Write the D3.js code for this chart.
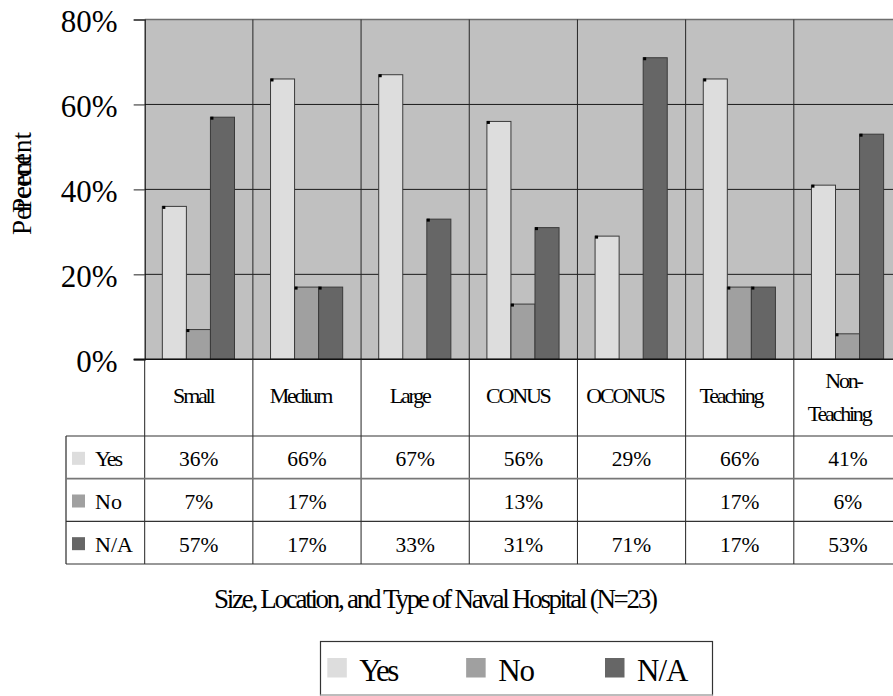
<!DOCTYPE html>
<html>
<head>
<meta charset="utf-8">
<script src="https://cdn.jsdelivr.net/npm/d3@7"></script>
<style>
  html, body { margin: 0; padding: 0; background: #fff; }
  svg { display: block; }
</style>
</head>
<body>
<svg id="chart" width="893" height="696"></svg>
<script>
// Hospital survey responses by size, location and type
const categories = ["Small", "Medium", "Large", "CONUS", "OCONUS", "Teaching", "Non-Teaching"];
const categoryLines = [["Small"], ["Medium"], ["Large"], ["CONUS"], ["OCONUS"], ["Teaching"], ["Non-", "Teaching"]];
const seriesNames = ["Yes", "No", "N/A"];
const yesValues = [36, 66, 67, 56, 29, 66, 41];
const noValues = [7, 17, null, 13, null, 17, 6];
const naValues = [57, 17, 33, 31, 71, 17, 53];
const yTicks = [0, 20, 40, 60, 80];
const seriesColors = ["#dddddd", "#a0a0a0", "#666666"];

const seriesValues = [yesValues, noValues, naValues];

// pick the first installed Times-like face
function pickFont(cands) {
  const ctx = document.createElement("canvas").getContext("2d");
  const probe = "mmmmmmmmmmlliWWQ%08";
  const widthOf = f => { ctx.font = "40px " + f; return ctx.measureText(probe).width; };
  const mono = widthOf("monospace"), sans = widthOf("sans-serif");
  for (const c of cands) {
    const a = widthOf(`"${c}", monospace`), b = widthOf(`"${c}", sans-serif`);
    if (a !== mono || b !== sans) return `"${c}"`;
  }
  return "serif";
}
const serif = pickFont(["Liberation Serif", "Tinos", "Times New Roman", "Times", "Nimbus Roman", "FreeSerif", "Noto Serif", "DejaVu Serif"]) + ", serif";

const svg = d3.select("#chart").style("font-family", serif);
const plot = { left: 144.7, right: 902, top: 19.5, bottom: 359.3 };
const table = { left: 66, headerBottom: 436, bottom: 564 };

const x = d3.scaleBand().domain(categories).range([plot.left, plot.right]).paddingInner(0).paddingOuter(0);
const bw = x.bandwidth();
const x1 = d3.scaleBand().domain(seriesNames).range([bw * 0.163, bw * 0.83]).paddingInner(0);
const y = d3.scaleLinear().domain([0, 80]).range([plot.bottom, plot.top]);
const color = d3.scaleOrdinal().domain(seriesNames).range(seriesColors);
const rowY = d3.scaleBand().domain(seriesNames).range([table.headerBottom, table.bottom]);

// plot background
svg.append("rect")
  .attr("x", plot.left).attr("y", plot.top)
  .attr("width", plot.right - plot.left).attr("height", plot.bottom - plot.top)
  .attr("fill", "#c0c0c0");

// horizontal gridlines
svg.append("g").selectAll("line")
  .data(yTicks.filter(t => t > 0 && t < 80))
  .join("line")
  .attr("x1", plot.left).attr("x2", plot.right)
  .attr("y1", d => y(d)).attr("y2", d => y(d))
  .attr("stroke", "#1a1a1a").attr("stroke-width", 1);

// top border of plot
svg.append("line")
  .attr("x1", plot.left).attr("x2", plot.right)
  .attr("y1", y(80)).attr("y2", y(80))
  .attr("stroke", "#6e6e6e").attr("stroke-width", 1.5);

// category dividers in plot
svg.append("g").selectAll("line")
  .data(categories.slice(1))
  .join("line")
  .attr("x1", d => x(d)).attr("x2", d => x(d))
  .attr("y1", plot.top).attr("y2", plot.bottom)
  .attr("stroke", "#262626").attr("stroke-width", 1);

// bars
const barData = [];
categories.forEach((c, i) => {
  seriesNames.forEach((s, j) => {
    const v = seriesValues[j][i];
    if (v != null) barData.push({ cat: c, series: s, value: v });
  });
});

const bars = svg.append("g");
bars.selectAll("rect.bar")
  .data(barData)
  .join("rect")
  .attr("class", "bar")
  .attr("x", d => x(d.cat) + x1(d.series))
  .attr("y", d => y(d.value))
  .attr("width", x1.bandwidth())
  .attr("height", d => y(0) - y(d.value))
  .attr("fill", d => color(d.series))
  .attr("stroke", "#3a3a3a")
  .attr("stroke-width", 1);

// small point markers at bar tops
bars.selectAll("rect.mark")
  .data(barData)
  .join("rect")
  .attr("class", "mark")
  .attr("x", d => x(d.cat) + x1(d.series))
  .attr("y", d => y(d.value) - 0.5)
  .attr("width", 3).attr("height", 3)
  .attr("fill", "#000");

// y axis
const yAxis = d3.axisLeft(y).tickValues(yTicks).tickFormat(d => d + "%").tickSize(11).tickPadding(16);
const yg = svg.append("g").attr("transform", `translate(${plot.left},0)`).call(yAxis);
yg.attr("font-family", serif).attr("font-size", 31);
yg.select(".domain").attr("stroke", "#111").attr("stroke-width", 1.2);
yg.selectAll(".tick line").attr("stroke", "#222");
yg.selectAll(".tick text")
  .attr("fill", "#000")
  .attr("dy", "0.4em");

// baseline
svg.append("line")
  .attr("x1", plot.left - 11).attr("x2", plot.right)
  .attr("y1", y(0)).attr("y2", y(0))
  .attr("stroke", "#111").attr("stroke-width", 1.5);

// y axis title (two overlapping runs of the same word)
const yTitleX = 31;
svg.append("text")
  .attr("transform", `translate(${yTitleX},235) rotate(-90)`)
  .attr("font-size", 27).attr("text-anchor", "start")
  .text("Percent");
svg.append("text")
  .attr("transform", `translate(${yTitleX},132) rotate(-90)`)
  .attr("font-size", 27).attr("text-anchor", "end")
  .text("Percent");

// data table
const tbl = svg.append("g");
tbl.selectAll("line.hcol")
  .data(categories)
  .join("line")
  .attr("class", "hcol")
  .attr("x1", d => x(d)).attr("x2", d => x(d))
  .attr("y1", plot.bottom).attr("y2", table.bottom)
  .attr("stroke", "#222").attr("stroke-width", 1);
tbl.append("line")
  .attr("x1", table.left).attr("x2", table.left)
  .attr("y1", table.headerBottom).attr("y2", table.bottom)
  .attr("stroke", "#555").attr("stroke-width", 1.5);
const rowEdges = seriesNames.map(s => rowY(s)).concat([table.bottom]);
tbl.selectAll("line.row")
  .data(rowEdges)
  .join("line")
  .attr("class", "row")
  .attr("x1", table.left).attr("x2", plot.right)
  .attr("y1", d => d).attr("y2", d => d)
  .attr("stroke", (d, i) => i === 1 ? "#777" : "#333")
  .attr("stroke-width", (d, i) => i === 1 ? 1.6 : 1.1);

// header labels, condensed
const header = tbl.append("g").attr("font-size", 22);
categories.forEach((c, i) => {
  const lines = categoryLines[i];
  const cx = x(c) + bw / 2;
  const baseY = lines.length === 1 ? 403 : 388;
  lines.forEach((ln, k) => {
    const t = header.append("text")
      .attr("x", cx).attr("y", baseY + k * 33)
      .attr("text-anchor", "start")
      .text(ln);
    const w = t.node().getComputedTextLength();
    t.attr("x", cx - w / 2).style("letter-spacing", "-2.2px");
  });
});

// row legend keys and values
seriesNames.forEach((s, j) => {
  const ry = rowY(s);
  const mid = ry + rowY.bandwidth() / 2;
  tbl.append("rect")
    .attr("x", 72).attr("y", mid - 5.5)
    .attr("width", 13).attr("height", 13)
    .attr("fill", color(s));
  tbl.append("text")
    .attr("x", 95).attr("y", mid + 9)
    .attr("font-size", 22)
    .style("letter-spacing", s === "Yes" ? "-2px" : "0px")
    .text(s);
  tbl.append("g").selectAll("text")
    .data(categories.map((c, i) => ({ cat: c, value: seriesValues[j][i] })).filter(d => d.value != null))
    .join("text")
    .attr("x", d => x(d.cat) + bw / 2)
    .attr("y", mid + 9)
    .attr("text-anchor", "middle")
    .attr("font-size", 21.5)
    .text(d => d.value + "%");
});

// x axis title
svg.append("text")
  .attr("x", 436).attr("y", 608)
  .attr("text-anchor", "middle")
  .attr("font-size", 27)
  .attr("textLength", 444)
  .attr("lengthAdjust", "spacing")
  .text("Size, Location, and Type of Naval Hospital (N=23)");

// legend
const legend = svg.append("g");
legend.append("rect")
  .attr("x", 320.5).attr("y", 641.5)
  .attr("width", 392).attr("height", 53.5)
  .attr("fill", "#fff").attr("stroke", "#333").attr("stroke-width", 1.2);
legend.append("line")
  .attr("x1", 320.5).attr("x2", 712.5).attr("y1", 695).attr("y2", 695)
  .attr("stroke", "#cfcfcf").attr("stroke-width", 1.5);
const lx = d3.scalePoint().domain(seriesNames).range([327.3, 605]);
const items = legend.selectAll("g.item").data(seriesNames).join("g").attr("class", "item")
  .attr("transform", d => `translate(${lx(d)},0)`);
items.append("rect")
  .attr("x", 0).attr("y", 658)
  .attr("width", 19.5).attr("height", 19.5)
  .attr("fill", d => color(d));
items.append("text")
  .attr("x", 32).attr("y", 681)
  .attr("font-size", 31)
  .style("letter-spacing", d => d === "Yes" ? "-2.5px" : "-1px")
  .text(d => d);
</script>
</body>
</html>
